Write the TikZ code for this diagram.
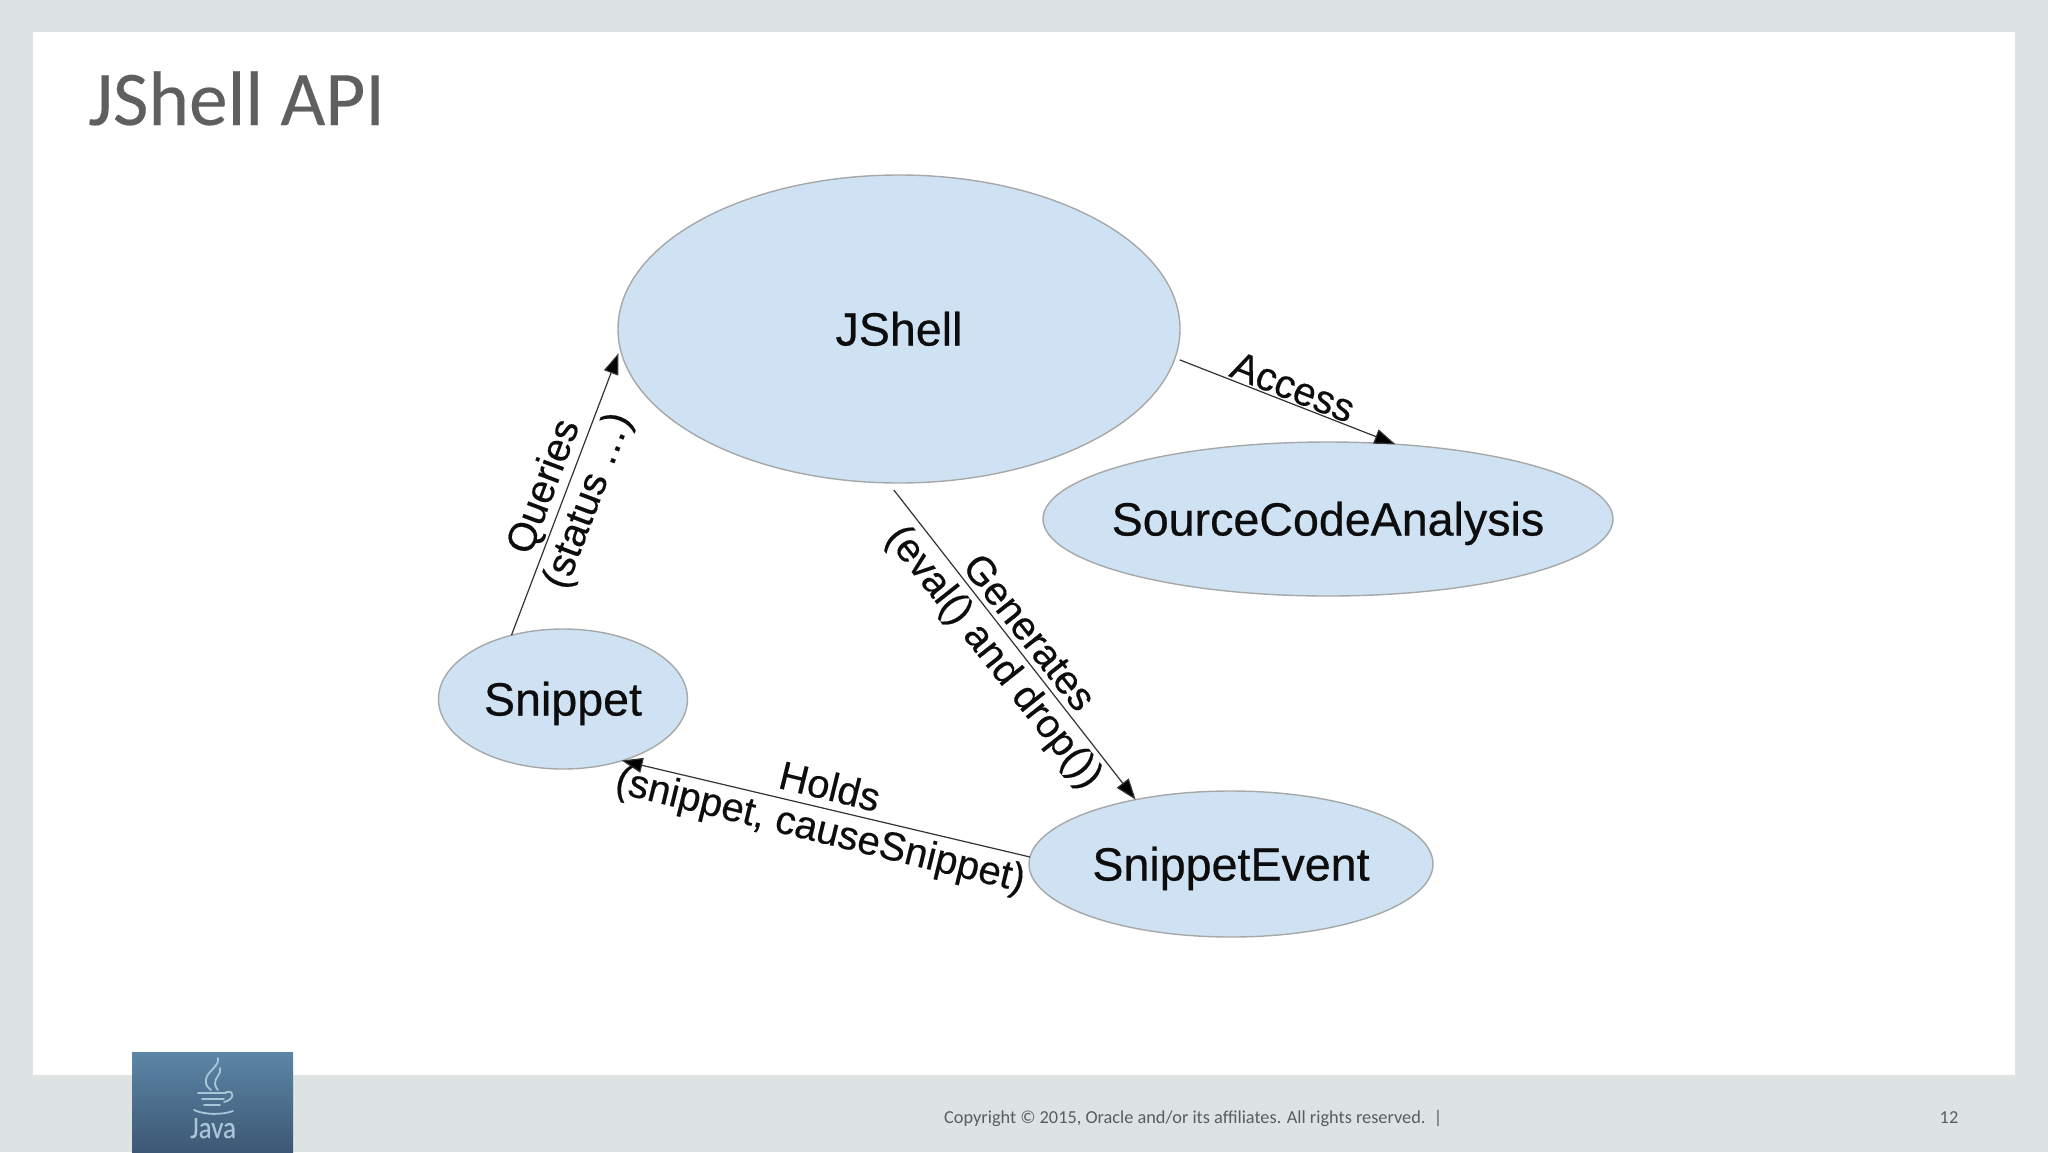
\documentclass[tikz,border=0pt]{standalone}
\usepackage{fontspec}
\setmainfont{Liberation Sans}
\newfontfamily\boldishfont[FakeBold=0.5]{Liberation Sans}
\newfontfamily\tagfont[FakeBold=0.35]{Liberation Sans}
\newfontfamily\slidefont{Carlito}
\newfontfamily\titlefont[FakeBold=0.15]{Carlito}
\usetikzlibrary{shapes.geometric,arrows.meta}
\definecolor{slidebg}{HTML}{DDE3E2}
\definecolor{nodefill}{HTML}{CFE2F3}
\definecolor{nodeline}{HTML}{A6A8A8}
\definecolor{titlegray}{HTML}{5E5F5F}
\definecolor{footgray}{HTML}{5A5D5D}
\definecolor{logotop}{HTML}{5C86A6}
\definecolor{logobot}{HTML}{3C5874}
\definecolor{logoink}{HTML}{A8C6D8}
\tikzset{
  x=1pt,y=-1pt,
  entity/.style={ellipse,draw=nodeline,fill=nodefill,line width=1.4pt,inner sep=-60pt,outer sep=0pt,text=black!95,text height=33pt,text depth=0pt,font=\boldishfont\fontsize{46.6}{50}\selectfont},
  link/.style={draw=black!80,line width=1.2pt,-{Triangle[length=21pt,width=15pt,fill=black]}},
  tag/.style={inner sep=0pt,text=black!95,font=\tagfont\fontsize{40}{44}\selectfont},
  steam/.style={draw=logoink,line width=1.8pt,line cap=round},
}
\begin{document}
\begin{tikzpicture}
\useasboundingbox (0,0) rectangle (2048,1152);
\fill[slidebg] (0,0) rectangle (2048,1152);
\fill[white] (33,32) rectangle (2015,1075);
\node[anchor=base west,text=titlegray,inner sep=0pt,font=\titlefont\fontsize{77.4}{80}\selectfont] (title) at (88,125) {JShell API};

\node[entity,minimum width=562pt,minimum height=308pt] (jshell) at (899,329) {JShell};
\node[entity,minimum width=570pt,minimum height=154pt] (sca) at (1328,519) {SourceCodeAnalysis};
\node[entity,minimum width=249pt,minimum height=140pt] (snippet) at (563,699) {Snippet};
\node[entity,minimum width=404pt,minimum height=146pt] (event) at (1231,864) {SnippetEvent};

\draw[link,shorten <=5pt] (jshell.-6) -- (sca.48);
\draw[link] (snippet.129.5) -- ([xshift=-3pt]jshell.185);
\draw[link,shorten <=9pt] (jshell.-94) -- (event.146);
\draw[link] (event.178) -- ([xshift=-4pt,yshift=-1pt]snippet.-44);

\node[tag,rotate=-21.6] (l1) at (1293,387) {Access};
\node[tag,rotate=69.3] (l2) at (545,487) {Queries};
\node[tag,rotate=69.3] (l3) at (589,501) {(status …)};
\node[tag,rotate=-51.6] (l4) at (1030,632) {Generates};
\node[tag,rotate=-51.6] (l5) at (993,658) {(eval() and drop())};
\node[tag,rotate=-13.8] (l6) at (830,786) {Holds};
\node[tag,rotate=-13.8] (l7) at (820,832) {(snippet, causeSnippet)};

\node[anchor=base west,inner sep=0pt,text=footgray,font=\slidefont\fontsize{18.3}{20}\selectfont] (copy) at (944,1123) {Copyright © 2015, Oracle and/or its affiliates. All rights reserved.\ \ |};
\node[anchor=base,inner sep=0pt,text=footgray,font=\slidefont\fontsize{18.3}{20}\selectfont] (page) at (1949,1123) {12};

% Java logo
\shade[top color=logotop,bottom color=logobot] (132,1052) rectangle (293,1152);
\draw[steam] (218,1058) .. controls (220,1066) and (206,1072) .. (206,1080) .. controls (205,1086) and (209,1088) .. (211,1090);
\draw[steam] (220,1068) .. controls (222,1074) and (214,1078) .. (215,1084) .. controls (215,1087) and (217,1088) .. (218,1090);
\draw[steam] (198,1093) -- (226,1093);
\draw[steam] (202,1099) -- (224,1099);
\draw[steam] (204,1105) -- (220,1105);
\draw[steam] (226,1092) .. controls (236,1090) and (234,1100) .. (224,1102);
\draw[steam] (194,1110) .. controls (205,1115) and (222,1115) .. (233,1111);
\node[anchor=base,inner sep=0pt,text=logoink,yscale=1.15,font=\titlefont\fontsize{27}{30}\selectfont] (java) at (213,1138) {Java};
\end{tikzpicture}
\end{document}
